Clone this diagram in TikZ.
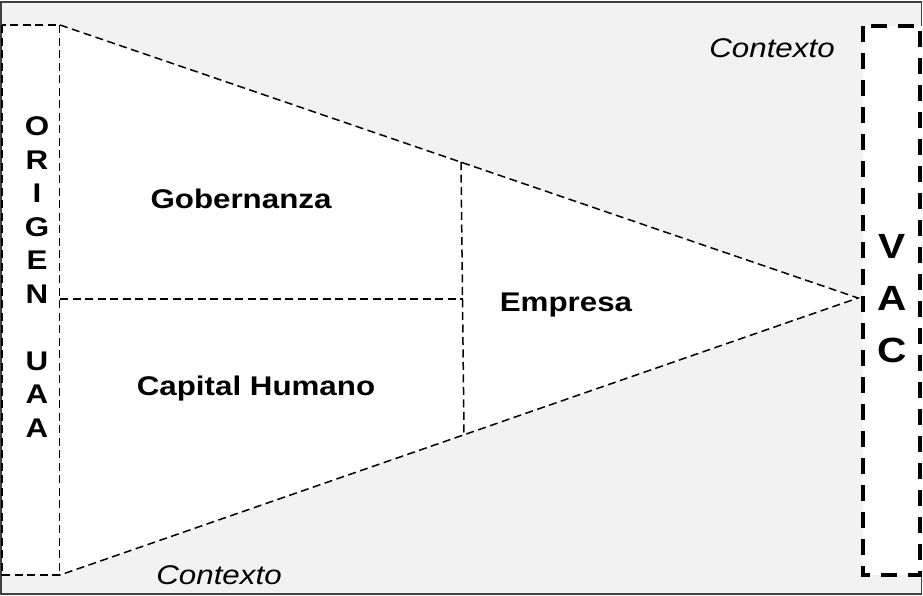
\documentclass[tikz,border=0pt]{standalone}
\usepackage{fontspec}
\setmainfont[FakeStretch=1.16]{Liberation Sans}
\definecolor{bggray}{HTML}{F2F2F2}
\definecolor{framegray}{HTML}{404040}
\tikzset{
  thindash/.style={draw=black, line width=1.5pt, dash pattern=on 8pt off 4.5pt},
  thickdash/.style={draw=black, line width=3.2pt, dash pattern=on 16pt off 11pt},
  boldtext/.style={font=\fontsize{27}{33.5}\selectfont\bfseries, inner sep=0pt},
  ctxtext/.style={font=\fontsize{27}{33.5}\selectfont\itshape, inner sep=0pt}
}
\begin{document}
\begin{tikzpicture}[x=1pt, y=-1pt]
  \useasboundingbox (0,0) rectangle (923,595);

  % Background
  \draw[framegray, line width=1.5pt, fill=bggray] (1,2) rectangle (921.5,594);

  % Corners
  \coordinate (otl) at (2,25);
  \coordinate (obr) at (60,575);
  \coordinate (ttl) at (60,25);
  \coordinate (tbl) at (60,575);
  \coordinate (apex) at (858,298);
  \coordinate (vtl) at (863,26);
  \coordinate (vbr) at (920,575);
  \coordinate (mtop) at (461,162);
  \coordinate (mbot) at (464,435);
  \coordinate (mleft) at (60,299);
  \coordinate (mmid) at (462.5,299);

  % Boxes
  \draw[thindash, line width=1.1pt, fill=white] (otl) rectangle (obr);
  \draw[thindash, fill=white] (ttl) -- (apex) -- (tbl);
  \fill[white] (vtl) rectangle (922,575);
  \draw[thickdash] (vtl) rectangle (vbr);

  % Inner lines
  \draw[thindash] (mtop) -- (mbot);
  \draw[thindash] (mleft) -- (mmid);

  % Labels
  \node[boldtext] (gob) at (241,199) {Gobernanza};
  \node[boldtext] (cap) at (256,389) {Capital Humano};
  \node[boldtext] (emp) at (566,305) {Empresa};
  \node[ctxtext] (ctxtop) at (772,48) {Contexto};
  \node[ctxtext] (ctxbot) at (219,575) {Contexto};
  \node[boldtext, align=center] (origen) at (37,277) {O\\R\\I\\G\\E\\N\\[33.5pt]U\\A\\A};
  \node[boldtext, font=\fontsize{35}{52}\selectfont\bfseries, align=center] (vac) at (892,299) {V\\A\\C};
\end{tikzpicture}
\end{document}
